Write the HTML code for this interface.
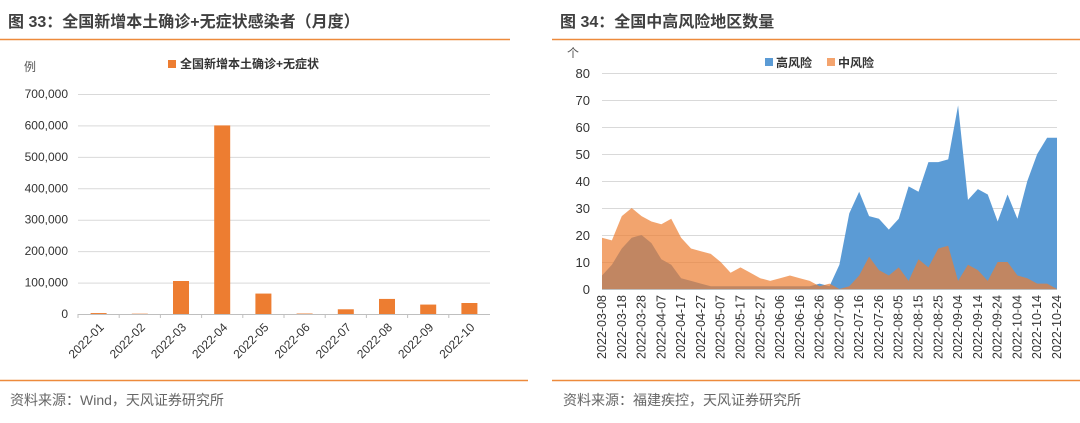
<!DOCTYPE html>
<html><head><meta charset="utf-8">
<style>
body{margin:0;background:#fff;width:1080px;height:418px;overflow:hidden;font-family:"Liberation Sans","Noto Sans CJK SC",sans-serif;}
svg text{font-family:"Liberation Sans","Noto Sans CJK SC",sans-serif;}
</style></head>
<body>
<svg width="1080" height="418" xmlns="http://www.w3.org/2000/svg" id="root">
  <text x="8" y="27" font-size="16" font-weight="bold" fill="#404040">图 33：全国新增本土确诊+无症状感染者（月度）</text>
  <line x1="0" y1="39.5" x2="510" y2="39.5" stroke="#ED8A3C" stroke-width="1.5"/>
  <text x="560" y="27" font-size="16" font-weight="bold" fill="#404040">图 34：全国中高风险地区数量</text>
  <line x1="552" y1="39.5" x2="1080" y2="39.5" stroke="#ED8A3C" stroke-width="1.5"/>
  <line x1="0" y1="380.5" x2="528" y2="380.5" stroke="#ED8A3C" stroke-width="1.5"/>
  <line x1="552" y1="380.5" x2="1080" y2="380.5" stroke="#ED8A3C" stroke-width="1.5"/>
  <text x="10" y="405" font-size="14" fill="#666">资料来源：Wind，天风证券研究所</text>
  <text x="563" y="405" font-size="14" fill="#666">资料来源：福建疾控，天风证券研究所</text>

  <text x="24" y="71" font-size="12" fill="#555">例</text>
  <rect x="168" y="60" width="8" height="8" fill="#ED7D31"/>
  <text x="180" y="68" font-size="12" font-weight="bold" fill="#333">全国新增本土确诊+无症状</text>
  <g id="left"></g>

  <text x="567" y="57" font-size="12" fill="#555">个</text>
  <rect x="765" y="58" width="8" height="8" fill="#5B9BD5"/>
  <text x="776" y="67" font-size="12" font-weight="bold" fill="#333">高风险</text>
  <rect x="827" y="58" width="8" height="8" fill="#F4A46E"/>
  <text x="838" y="67" font-size="12" font-weight="bold" fill="#333">中风险</text>
  <g id="right"></g>
</svg>
<script>
const barCategories = ["2022-01","2022-02","2022-03","2022-04","2022-05","2022-06","2022-07","2022-08","2022-09","2022-10"];
const barValues = [3000,1000,105000,600000,65000,1500,15000,48000,30000,35000];
const barTicks = [0,100000,200000,300000,400000,500000,600000,700000];

const areaStart = "2022-03-08";
const dateLabels = ["2022-03-08","2022-03-18","2022-03-28","2022-04-07","2022-04-17","2022-04-27","2022-05-07","2022-05-17","2022-05-27","2022-06-06","2022-06-16","2022-06-26","2022-07-06","2022-07-16","2022-07-26","2022-08-05","2022-08-15","2022-08-25","2022-09-04","2022-09-14","2022-09-24","2022-10-04","2022-10-14","2022-10-24"];
const highRisk = [5,9,15,19,20,17,11,9,4,3,2,1,1,1,1,1,1,1,1,1,1,1,2,1,9,28,36,27,26,22,26,38,36,47,47,48,68,33,37,35,25,35,26,40,50,56,56];
const midRisk = [19,18,27,30,27,25,24,26,19,15,14,13,10,6,8,6,4,3,4,5,4,3,1,2,0,1,5,12,7,5,8,3,11,8,15,16,3,9,7,3,10,10,5,4,2,2,0];
const areaTicks = [0,10,20,30,40,50,60,70,80];

const NS="http://www.w3.org/2000/svg";
function mk(tag, attrs, parent){const e=document.createElementNS(NS,tag);for(const k in attrs)e.setAttribute(k,attrs[k]);parent.appendChild(e);return e;}

(function(){
  const g=document.getElementById('left');
  const x0=78,x1=490,y0=314,y1=94,maxV=700000;
  const yS=v=>y0-(v/maxV)*(y0-y1);
  const bw=(x1-x0)/barCategories.length;
  barTicks.forEach(t=>{
    const l=mk('line',{x1:x0,x2:x1,y1:yS(t)+.5,y2:yS(t)+.5,stroke:'#d9d9d9','stroke-width':1},g);
    
    
    const tx=mk('text',{x:x0-10,y:yS(t)+4,'font-size':12,fill:'#333','text-anchor':'end'},g);
    tx.textContent=t.toLocaleString('en-US');
    
    
  });
  const ax=mk('line',{x1:x0,x2:x1,y1:y0+.5,y2:y0+.5,stroke:'#bfbfbf'},g);
  
  
  barCategories.forEach((c,i)=>{
    const cx=x0+bw*(i+.5);
    const h=y0-yS(barValues[i]);
    const r=mk('rect',{x:cx-8,y:y0-h,width:16,height:h,fill:'#ED7D31'},g);
    
    
    const tk=mk('line',{x1:x0+bw*i,x2:x0+bw*i,y1:y0,y2:y0+4,stroke:'#bfbfbf'},g);
    
    
    const t=mk('text',{x:cx+6,y:y0+14,'font-size':12,fill:'#333','text-anchor':'end',transform:`rotate(-45 ${cx+6} ${y0+14})`},g);
    t.textContent=c;
    
    
  });
})();

(function(){
  const g=document.getElementById('right');
  const x0=602,x1=1057,y0=289,y1=73,maxV=80,span=230,step=5;
  const day0=new Date(areaStart+"T00:00:00Z");
  const xS=d=>x0+(d/span)*(x1-x0);
  const yS=v=>y0-(v/maxV)*(y0-y1);
  areaTicks.forEach(t=>{
    const l=mk('line',{x1:x0,x2:x1,y1:yS(t)+.5,y2:yS(t)+.5,stroke:'#d9d9d9'},g);
    
    
    const tx=mk('text',{x:x0-12,y:yS(t)+5,'font-size':13,fill:'#333','text-anchor':'end'},g);
    tx.textContent=t;
    
    
  });
  function area(vals,fill,op,name){
    let d=`M${xS(0)},${y0}`;
    vals.forEach((v,i)=>{d+=` L${xS(Math.min(i*step,span))},${yS(v)}`;});
    d+=` L${xS(span)},${y0} Z`;
    const p=mk('path',{d:d,fill:fill,'fill-opacity':op},g);
    
    
  }
  area(highRisk,'#5B9BD5',1,'area-high-risk');
  area(midRisk,'#ED7D31',0.7,'area-mid-risk');
  const ax=mk('line',{x1:x0,x2:x1,y1:y0+.5,y2:y0+.5,stroke:'#bfbfbf'},g);
  
  
  dateLabels.forEach(lb=>{
    const d=(new Date(lb+"T00:00:00Z")-day0)/86400000;
    const x=xS(d);
    const t=mk('text',{x:x+4,y:y0+6,'font-size':12.5,fill:'#333','text-anchor':'end',transform:`rotate(-90 ${x+4} ${y0+6})`},g);
    t.textContent=lb;
    
    
  });
})();
</script>
</body></html>
